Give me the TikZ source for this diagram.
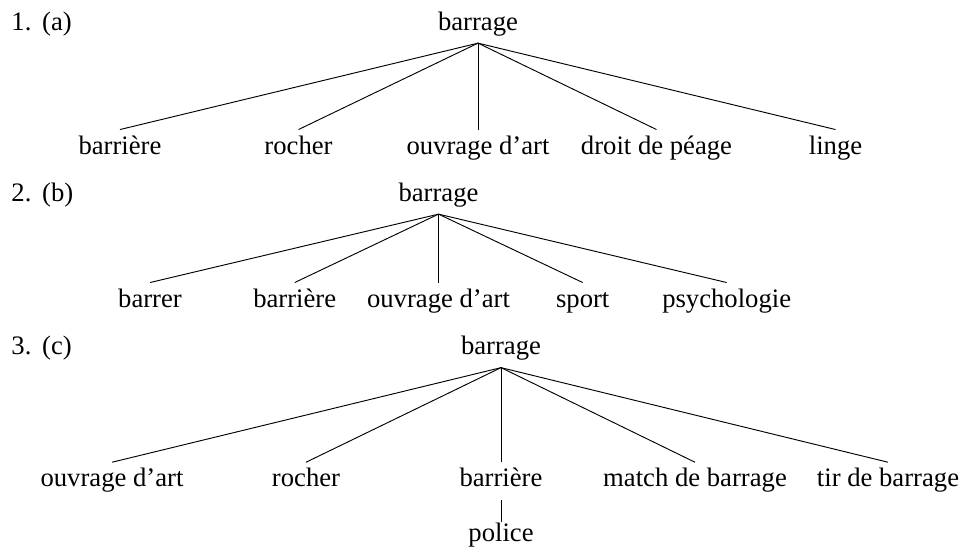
\documentclass[tikz,border=0pt]{standalone}
\usepackage{fontspec}
\setmainfont{Liberation Serif}
\begin{document}
\begin{tikzpicture}[x=0.375pt,y=-0.375pt,line width=0.35pt,
		mot/.style={anchor=base,inner sep=0pt,text height=9pt,text depth=4.75pt,font=\fontsize{10}{12}\selectfont},
		numero/.style={anchor=base west,inner sep=0pt,font=\fontsize{10}{12}\selectfont}]
	\useasboundingbox (0,0) rectangle (962,547);
	\node[numero] (na) at (11,30) {1.\hspace{4pt}(a)};
	\node[mot] (a0) at (478,30) {barrage};
	\node[mot] (a1) at (120,154) {barrière};
	\node[mot] (a2) at (298.5,154) {rocher};
	\node[mot] (a3) at (478,154) {ouvrage d’art};
	\node[mot] (a4) at (656.5,154) {droit de péage};
	\node[mot] (a5) at (835.5,154) {linge};
	\foreach \i in {1,...,5}
		\draw (a0.south) -- (a\i.north);
	\node[numero] (nb) at (11,201) {2.\hspace{4pt}(b)};
	\node[mot] (b0) at (438.5,201) {barrage};
	\node[mot] (b1) at (150,307) {barrer};
	\node[mot] (b2) at (294.7,307) {barrière};
	\node[mot] (b3) at (438.5,307) {ouvrage d’art};
	\node[mot] (b4) at (582.7,307) {sport};
	\node[mot] (b5) at (726.7,307) {psychologie};
	\foreach \i in {1,...,5}
		\draw (b0.south) -- (b\i.north);
	\node[numero] (nc) at (11,354.5) {3.\hspace{4pt}(c)};
	\node[mot] (c0) at (501,354.5) {barrage};
	\node[mot] (c1) at (112,486.7) {ouvrage d’art};
	\node[mot] (c2) at (306,486.7) {rocher};
	\node[mot] (c3) at (501,486.7) {barrière};
	\node[mot] (c4) at (695,486.7) {match de barrage};
	\node[mot] (c5) at (888,486.7) {tir de barrage};
	\node[mot,text height=7pt] (c6) at (501,541) {police};
	\foreach \i in {1,...,5}
		\draw (c0.south) -- (c\i.north);
	\draw (c3.south) -- (c6.north);
\end{tikzpicture}
\end{document}
